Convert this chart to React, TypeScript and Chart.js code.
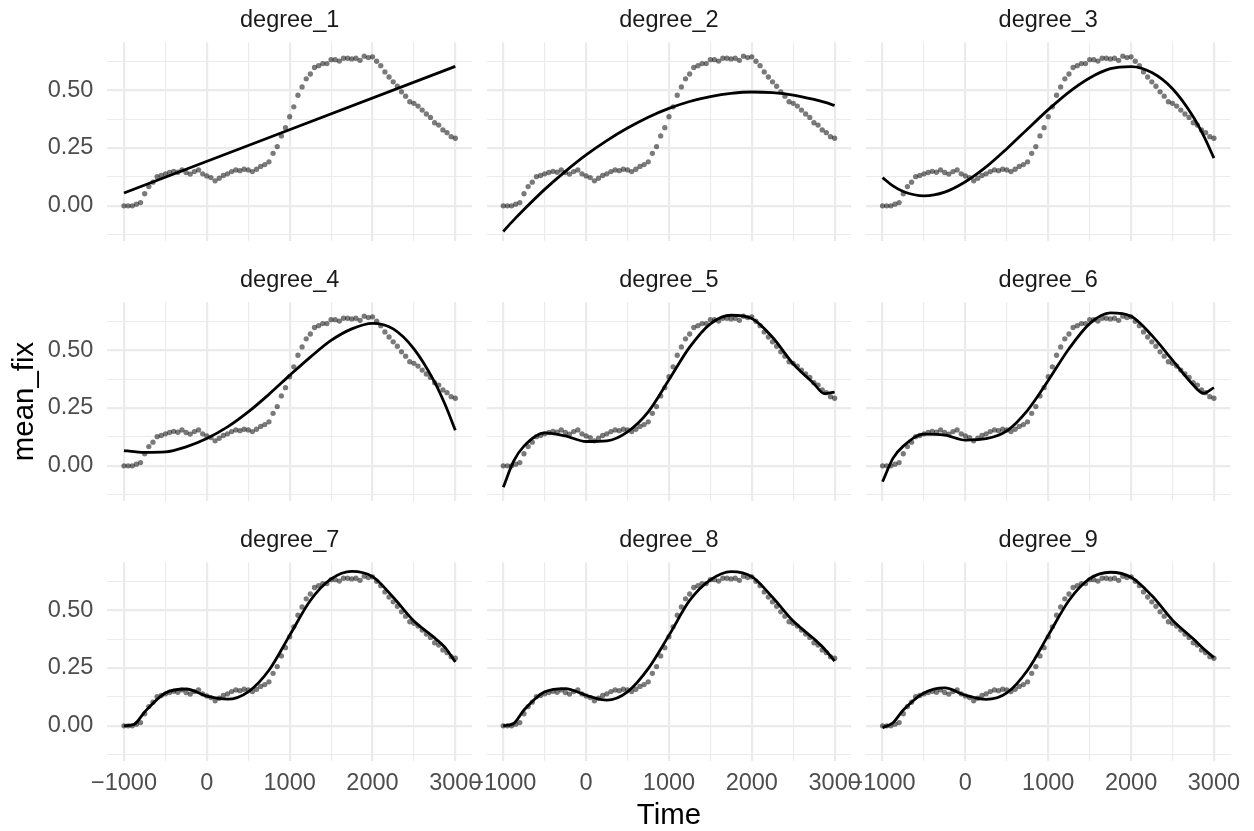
import { useEffect, useRef } from "react";
import { Chart, registerables } from "chart.js";

Chart.register(...registerables);

// Observed fixation proportion, one value per 50 ms bin
const TIME = [
  -1000, -950, -900, -850, -800, -750, -700, -650, -600, -550,
  -500, -450, -400, -350, -300, -250, -200, -150, -100, -50,
  0, 50, 100, 150, 200, 250, 300, 350, 400, 450,
  500, 550, 600, 650, 700, 750, 800, 850, 900, 950,
  1000, 1050, 1100, 1150, 1200, 1250, 1300, 1350, 1400, 1450,
  1500, 1550, 1600, 1650, 1700, 1750, 1800, 1850, 1900, 1950,
  2000, 2050, 2100, 2150, 2200, 2250, 2300, 2350, 2400, 2450,
  2500, 2550, 2600, 2650, 2700, 2750, 2800, 2850, 2900, 2950,
  3000,
];
const MEAN_FIX = [
  0.0, 0.0, 0.0, 0.007, 0.014, 0.052, 0.083, 0.102, 0.126, 0.131,
  0.138, 0.144, 0.149, 0.145, 0.155, 0.144, 0.137, 0.148, 0.155, 0.138,
  0.129, 0.122, 0.108, 0.119, 0.131, 0.138, 0.148, 0.155, 0.152, 0.158,
  0.155, 0.148, 0.158, 0.17, 0.178, 0.19, 0.227, 0.256, 0.302, 0.338,
  0.385, 0.428, 0.478, 0.514, 0.549, 0.57, 0.598, 0.606, 0.615, 0.615,
  0.632, 0.632, 0.626, 0.638, 0.638, 0.635, 0.638, 0.629, 0.647, 0.641,
  0.644, 0.625, 0.606, 0.579, 0.557, 0.536, 0.517, 0.493, 0.474, 0.45,
  0.443, 0.431, 0.414, 0.397, 0.382, 0.359, 0.349, 0.328, 0.316, 0.299,
  0.292,
];

// Polynomial fits, sampled along the time axis
const LINE_TIME = [-1000, 3000];
const FIT_TIME = [
  -1000, -875, -750, -500, -250, 0, 250, 500, 750, 1000,
  1250, 1500, 1750, 2000, 2250, 2500, 2750, 2875, 3000,
];
const FIT_DEG1 = [0.055, 0.603];
const FIT_DEG2 = [-0.111, -0.062, -0.016, 0.071, 0.149, 0.22, 0.282, 0.336, 0.383, 0.421, 0.451, 0.472, 0.486, 0.492, 0.489, 0.479, 0.46, 0.448, 0.434];
const FIT_DEG3 = [0.122, 0.086, 0.062, 0.043, 0.059, 0.104, 0.168, 0.247, 0.332, 0.416, 0.492, 0.553, 0.593, 0.602, 0.576, 0.506, 0.385, 0.303, 0.206];
const FIT_DEG4 = [0.066, 0.061, 0.058, 0.06, 0.082, 0.118, 0.168, 0.233, 0.309, 0.391, 0.47, 0.542, 0.592, 0.616, 0.592, 0.506, 0.362, 0.266, 0.154];
const FIT_DEG5 = [-0.093, 0.02, 0.085, 0.142, 0.129, 0.105, 0.108, 0.147, 0.233, 0.372, 0.513, 0.614, 0.651, 0.637, 0.556, 0.441, 0.355, 0.312, 0.319];
const FIT_DEG6 = [-0.069, 0.032, 0.085, 0.137, 0.133, 0.111, 0.117, 0.151, 0.24, 0.369, 0.506, 0.615, 0.661, 0.647, 0.564, 0.457, 0.349, 0.313, 0.338];
const FIT_DEG7 = [0.0, 0.007, 0.06, 0.142, 0.159, 0.128, 0.115, 0.147, 0.24, 0.391, 0.542, 0.635, 0.668, 0.645, 0.556, 0.453, 0.38, 0.339, 0.276];
const FIT_DEG8 = [0.0, 0.01, 0.068, 0.147, 0.161, 0.132, 0.111, 0.147, 0.247, 0.391, 0.542, 0.631, 0.667, 0.645, 0.556, 0.453, 0.376, 0.333, 0.28];
const FIT_DEG9 = [-0.008, 0.013, 0.068, 0.142, 0.164, 0.132, 0.114, 0.142, 0.24, 0.391, 0.542, 0.636, 0.664, 0.642, 0.563, 0.457, 0.376, 0.333, 0.295];

const PANEL_NAMES = [
  "degree_1", "degree_2", "degree_3",
  "degree_4", "degree_5", "degree_6",
  "degree_7", "degree_8", "degree_9",
];
const FIT_VALUES = [FIT_DEG1, FIT_DEG2, FIT_DEG3, FIT_DEG4, FIT_DEG5, FIT_DEG6, FIT_DEG7, FIT_DEG8, FIT_DEG9];
const FIT_TIMES = [LINE_TIME, FIT_TIME, FIT_TIME, FIT_TIME, FIT_TIME, FIT_TIME, FIT_TIME, FIT_TIME, FIT_TIME];

// Axis ticks (majors carry labels, the rest are minor grid lines)
const X_TICKS = [-1000, -500, 0, 500, 1000, 1500, 2000, 2500, 3000];
const X_LABELS: Record<number, string> = { [-1000]: "\u22121000", 0: "0", 1000: "1000", 2000: "2000", 3000: "3000" };
const Y_TICKS = [-0.125, 0, 0.125, 0.25, 0.375, 0.5, 0.625];
const Y_LABELS: Record<string, string> = { "0": "0.00", "0.25": "0.25", "0.5": "0.50" };
const X_RANGE = [-1200, 3200];
const Y_RANGE = [-0.151, 0.707];

// Page and facet geometry
const W = 1254;
const H = 831;
const PANEL_LEFT = [107.4, 486.7, 866.0];
const PANEL_TOP = [42.3, 302.3, 562.3];
const PANEL_W = 364.5;
const PANEL_H = 198.4;

const FONT = "'Liberation Sans', Arial, Helvetica, sans-serif";
const TICK_SIZE = 23.5;
const TITLE_SIZE = 29.4;
const GRID = "#EBEBEB";

function Panel({ index }: { index: number }) {
  const ref = useRef<HTMLCanvasElement>(null);

  useEffect(() => {
    const row = Math.floor(index / 3);
    const col = index % 3;
    const left = PANEL_LEFT[col];
    const top = PANEL_TOP[row];
    const right = left + PANEL_W;
    const bottom = top + PANEL_H;

    const points = TIME.map((t, i) => ({ x: t, y: MEAN_FIX[i] }));
    const fit = FIT_TIMES[index].map((t, i) => ({ x: t, y: FIT_VALUES[index][i] }));

    const chart = new Chart(ref.current as HTMLCanvasElement, {
      type: "line",
      data: {
        datasets: [
          {
            data: fit,
            xAxisID: "x",
            yAxisID: "y",
            borderColor: "#000000",
            borderWidth: 2.8,
            pointRadius: 0,
            fill: false,
            cubicInterpolationMode: "monotone",
            order: 0,
          },
          {
            data: points,
            xAxisID: "x",
            yAxisID: "y",
            showLine: false,
            pointRadius: 2.65,
            pointBorderWidth: 0,
            pointBackgroundColor: "rgba(0,0,0,0.52)",
            pointBorderColor: "rgba(0,0,0,0)",
            order: 1,
          },
        ],
      },
      options: {
        responsive: false,
        animation: false,
        devicePixelRatio: 1,
        layout: { padding: { left: 0, top: 0, bottom: 0, right: W - right } },
        plugins: {
          legend: { display: false },
          tooltip: { enabled: false },
          title: { display: false },
        },
        scales: {
          x: {
            type: "linear",
            axis: "x",
            position: "bottom",
            min: X_RANGE[0],
            max: X_RANGE[1],
            afterBuildTicks: (s: any) => {
              s.ticks = X_TICKS.map((v) => ({ value: v }));
            },
            afterFit: (s: any) => {
              s.height = H - bottom;
            },
            border: { display: false },
            grid: {
              color: GRID,
              drawTicks: false,
              lineWidth: (ctx: any) => (ctx.tick && ctx.tick.value % 1000 === 0 ? 2.2 : 1.1),
            },
            ticks: {
              display: row === 2,
              autoSkip: false,
              maxRotation: 0,
              padding: 8.5,
              color: "#4D4D4D",
              font: { family: FONT, size: TICK_SIZE },
              callback: (v: any) => X_LABELS[v as number] ?? "",
            },
            title: {
              display: index === 7,
              text: "Time",
              color: "#000000",
              font: { family: FONT, size: TITLE_SIZE, lineHeight: 1 },
              padding: { top: 0, bottom: 0.3 },
            },
          },
          strip: {
            type: "linear",
            axis: "x",
            position: "top",
            min: X_RANGE[0],
            max: X_RANGE[1],
            afterFit: (s: any) => {
              s.height = top;
            },
            border: { display: false },
            grid: { display: false, drawTicks: false },
            ticks: { display: false },
            title: {
              display: true,
              text: PANEL_NAMES[index],
              color: "#1A1A1A",
              font: { family: FONT, size: TICK_SIZE, lineHeight: 1 },
              padding: { top: top - 22.1 - TICK_SIZE / 2, bottom: 0 },
            },
          },
          y: {
            type: "linear",
            axis: "y",
            position: "left",
            min: Y_RANGE[0],
            max: Y_RANGE[1],
            afterBuildTicks: (s: any) => {
              s.ticks = Y_TICKS.map((v) => ({ value: v }));
            },
            afterFit: (s: any) => {
              s.width = left;
            },
            border: { display: false },
            grid: {
              color: GRID,
              drawTicks: false,
              lineWidth: (ctx: any) => {
                const v = ctx.tick ? ctx.tick.value : 0;
                return Math.abs(v * 4 - Math.round(v * 4)) < 1e-9 ? 2.2 : 1.1;
              },
            },
            ticks: {
              display: col === 0,
              padding: 14,
              color: "#4D4D4D",
              font: { family: FONT, size: TICK_SIZE },
              callback: (v: any) => Y_LABELS[String(v)] ?? "",
            },
            title: {
              display: index === 3,
              text: "mean_fix",
              color: "#000000",
              font: { family: FONT, size: TITLE_SIZE, lineHeight: 1 },
              padding: { top: 10.3, bottom: 0 },
            },
          },
        },
      } as any,
    });

    return () => chart.destroy();
  }, [index]);

  return (
    <canvas
      ref={ref}
      width={W}
      height={H}
      style={{ position: "absolute", left: 0, top: 0, width: W, height: H }}
    />
  );
}

export default function App() {
  return (
    <div
      style={{
        position: "absolute",
        left: 0,
        top: 0,
        width: W,
        height: H,
        background: "#FFFFFF",
        overflow: "hidden",
      }}
    >
      {PANEL_NAMES.map((_, i) => (
        <Panel key={i} index={i} />
      ))}
    </div>
  );
}
